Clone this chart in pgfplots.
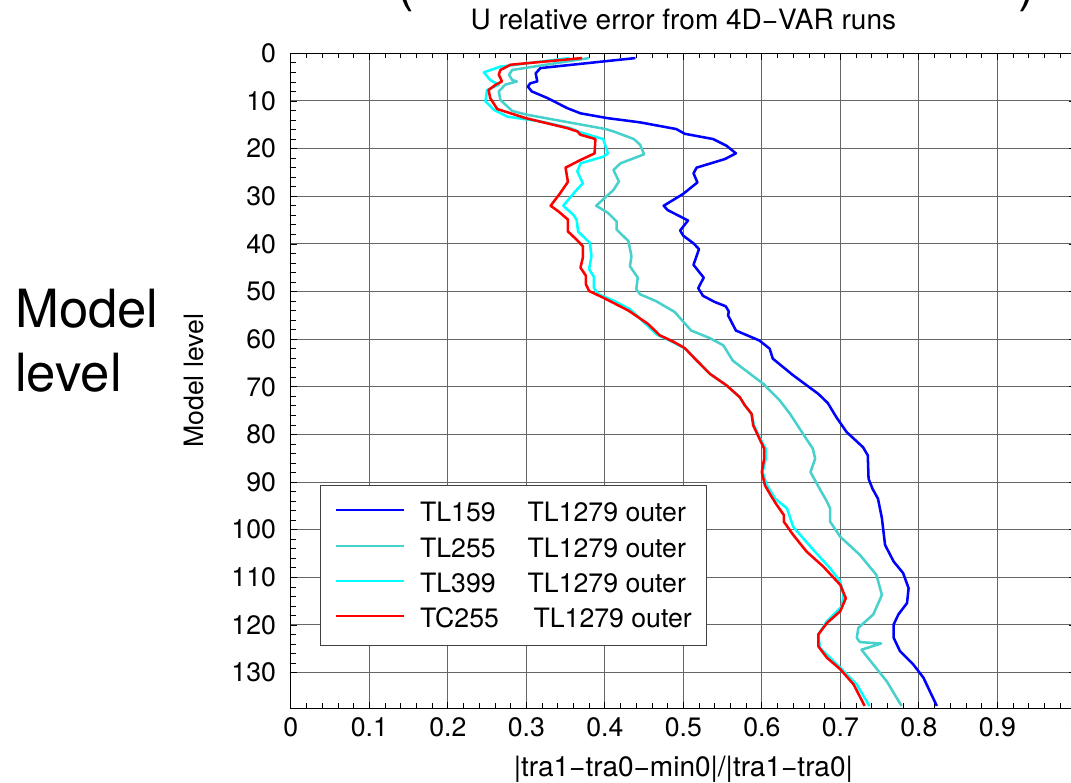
\documentclass[border=0pt]{standalone}
\usepackage{fontspec}
\setmainfont{TeX Gyre Heros}
\usepackage{pgfplots}
\pgfplotsset{compat=1.18}

\definecolor{tlblue}{RGB}{0,0,255}
\definecolor{tlturq}{RGB}{72,209,204}
\definecolor{tlcyan}{RGB}{0,255,255}
\definecolor{tcred}{RGB}{255,0,0}

\begin{document}
\begin{tikzpicture}
\begin{axis}[
  at={(218.1pt,55.275pt)}, anchor=south west,
  scale only axis, width=588.75pt, height=491.25pt,
  xmin=0, xmax=1, ymin=0, ymax=137.5, y dir=reverse,
  xtick={0,0.1,0.2,0.3,0.4,0.5,0.6,0.7,0.8,0.9,1},
  xticklabels={0,0.1,0.2,0.3,0.4,0.5,0.6,0.7,0.8,0.9,1},
  ytick={0,10,...,130},
  minor x tick num=4, minor y tick num=4,
  tick align=inside, major tick length=5pt, minor tick length=3.75pt,
  tick style={black, line width=0.5pt},
  grid=major, major grid style={black!60, line width=0.7pt},
  axis line style={black, line width=0.75pt},
  /pgf/number format/assume math mode=true,
  ticklabel style={font=\fontsize{20}{23}\selectfont},
  xticklabel style={yshift=-3.4pt},
  yticklabel style={xshift=-7.6pt},
  legend style={at={(0.0372,0.3409)}, anchor=north west,
    draw=black!75, line width=0.6pt, fill=white,
    inner xsep=11pt, inner ysep=10.7pt,
    font=\fontsize{20}{24}\selectfont,
    row sep=7.5pt, column sep=11.25pt,
    nodes={inner sep=0pt, text height=16.7pt, text depth=2.3pt}},
  legend cell align=left,
  legend image code/.code={\draw[#1, line width=1.5pt] (0pt,1.4pt) -- (51pt,1.4pt);},
  every axis plot/.append style={line width=1.9pt, line join=round},
]
% TL159 inner loop
\addplot[tlblue] coordinates {
(0.439,1) (0.318,3.1) (0.312,4.2) (0.314,5.9) (0.305,6.3) (0.302,7) (0.307,8)
(0.327,9.4) (0.352,11.5) (0.369,12.6) (0.403,13.6) (0.445,14.5) (0.491,15.9)
(0.502,16.9) (0.538,18) (0.555,19.4) (0.567,21) (0.553,22.2) (0.517,24)
(0.513,25.2) (0.518,27.1) (0.500,29.5) (0.475,32) (0.480,32.9) (0.506,35.1)
(0.496,37.2) (0.500,38.3) (0.513,39.9) (0.520,41.1) (0.513,44.4) (0.526,47.1)
(0.519,49.3) (0.525,50.9) (0.540,52.2) (0.554,53.1) (0.558,54.2) (0.557,55)
(0.567,58.2) (0.597,60.3) (0.610,62) (0.614,64.1) (0.640,67.6) (0.672,71.5)
(0.684,73.4) (0.695,76.4) (0.708,79.5) (0.729,82.7) (0.735,84.4) (0.736,89.3)
(0.741,91.4) (0.748,93.5) (0.753,97.6) (0.757,103.2) (0.768,106.7) (0.780,109.1)
(0.787,112.3) (0.785,115.4) (0.774,117.8) (0.768,119.9) (0.768,122.7)
(0.776,125.5) (0.793,128.3) (0.806,131.1) (0.814,133.9) (0.823,137)
};
\addlegendentry{TL159\hspace{24pt}TL1279 outer}
% TL255 inner loop
\addplot[tlturq] coordinates {
(0.380,1) (0.282,3.5) (0.278,4.5) (0.282,5.6) (0.288,5.9) (0.273,6.6) (0.265,8)
(0.267,9.8) (0.282,12.1) (0.301,12.9) (0.361,14.7) (0.401,15.9) (0.411,16.4)
(0.437,18) (0.445,19.2) (0.450,21.2) (0.420,23.1) (0.411,24.5) (0.418,26.9)
(0.411,28.7) (0.389,32) (0.404,33.5) (0.415,35.3) (0.415,37) (0.430,39.4)
(0.434,42.6) (0.432,44.7) (0.442,47.1) (0.440,49.5) (0.445,50.6) (0.465,52)
(0.489,54.3) (0.510,58.2) (0.534,59.8) (0.551,61.3) (0.563,64.5) (0.574,65.9)
(0.602,69.4) (0.623,72.9) (0.636,75.7) (0.651,79.5) (0.665,83) (0.668,85.1)
(0.662,87.9) (0.669,90) (0.675,91.8) (0.682,93.8) (0.687,95.5) (0.687,98.3)
(0.700,101.5) (0.725,105.3) (0.746,109.5) (0.753,113.7) (0.742,117.8)
(0.723,120.6) (0.721,122.7) (0.725,123.6) (0.752,123.9) (0.727,125.2)
(0.742,128.3) (0.759,131.8) (0.778,137)
};
\addlegendentry{TL255\hspace{24pt}TL1279 outer}
% TL399 inner loop
\addplot[tlcyan] coordinates {
(0.355,1) (0.267,2.8) (0.246,4) (0.254,5.6) (0.265,6.6) (0.250,7.7) (0.248,10.1)
(0.259,11.9) (0.276,13.3) (0.318,14.3) (0.356,15.7) (0.369,16.6) (0.398,18)
(0.404,21) (0.398,21.7) (0.369,23.1) (0.365,24.8) (0.372,27.3) (0.364,28.7)
(0.347,32) (0.360,33.9) (0.364,34.9) (0.366,37.4) (0.381,39.8) (0.383,42.6)
(0.380,45.3) (0.386,46.9) (0.386,49.2) (0.392,50.6) (0.411,51.9) (0.432,53.7)
(0.452,56.8) (0.466,59) (0.485,60.5) (0.502,61.9) (0.513,63.8) (0.534,67.3)
(0.555,69.7) (0.572,72.2) (0.578,73.8) (0.587,75.7) (0.590,78.1) (0.598,80.9)
(0.605,83) (0.605,85.1) (0.601,87.9) (0.606,90.5) (0.617,93.5) (0.632,95.5)
(0.640,99.4) (0.666,104.3) (0.687,108.1) (0.700,110.9) (0.704,113.7)
(0.702,116.1) (0.683,119.2) (0.672,122) (0.674,124.8) (0.700,129) (0.721,132.5)
(0.737,137)
};
\addlegendentry{TL399\hspace{24pt}TL1279 outer}
% TC255 inner loop
\addplot[tcred] coordinates {
(0.371,1) (0.280,2.4) (0.267,3.5) (0.265,4.5) (0.269,5.9) (0.261,6.6) (0.252,7.7)
(0.254,9.4) (0.263,11.7) (0.299,13.6) (0.352,15.7) (0.365,16.4) (0.369,17.1)
(0.388,18) (0.387,21) (0.369,22.4) (0.350,24) (0.353,27) (0.343,29.4) (0.331,32)
(0.341,33.2) (0.353,34.9) (0.353,37.4) (0.364,39.1) (0.372,40.5) (0.372,42.9)
(0.369,45) (0.376,46.7) (0.376,48.5) (0.380,49.9) (0.398,51.3) (0.430,54)
(0.455,56.8) (0.470,59.2) (0.487,60.5) (0.502,61.9) (0.513,63.8) (0.534,67.3)
(0.555,69.7) (0.572,72.2) (0.578,73.8) (0.587,75.7) (0.589,78.1) (0.597,80.9)
(0.603,83) (0.603,85.1) (0.600,87.9) (0.604,90.7) (0.614,93.5) (0.619,94.8)
(0.628,96.9) (0.628,98.3) (0.640,101.1) (0.657,104.6) (0.678,107.7)
(0.700,111.6) (0.707,114.4) (0.700,117.1) (0.683,119.6) (0.672,122)
(0.672,124.5) (0.683,126.9) (0.700,129.3) (0.717,132.5) (0.731,137)
};
\addlegendentry{TC255\hspace{26pt}TL1279 outer}
\end{axis}

% text around the axis, placed in pixel-like units from the top-left corner
\begin{scope}[shift={(0pt,586.5pt)}, x=0.75pt, y=-0.75pt]
  \node[anchor=base, inner sep=0pt, font=\fontsize{21}{24}\selectfont]
    at (683.3,30) {U relative error from 4D−VAR runs};
  \node[anchor=base, inner sep=0pt, font=\fontsize{21}{24}\selectfont]
    at (683.3,776) {|tra1−tra0−min0|/|tra1−tra0|};
  \node[anchor=base, rotate=90, inner sep=0pt, font=\fontsize{20}{24}\selectfont]
    at (203,380.8) {Model level};
  \node[anchor=base west, inner sep=0pt, font=\fontsize{39.5}{44}\selectfont]
    at (15,328) {Model};
  \node[anchor=base west, inner sep=0pt, font=\fontsize{39.5}{44}\selectfont]
    at (15,391.7) {level};
  \node[anchor=south, inner sep=0pt, font=\fontsize{40}{44}\selectfont]
    at (405,12) {(};
  \node[anchor=south, inner sep=0pt, font=\fontsize{40}{44}\selectfont]
    at (1027,12) {)};
\end{scope}

\pgfresetboundingbox
\path[use as bounding box] (0pt,0pt) rectangle (803.25pt,586.5pt);
\end{tikzpicture}
\end{document}
